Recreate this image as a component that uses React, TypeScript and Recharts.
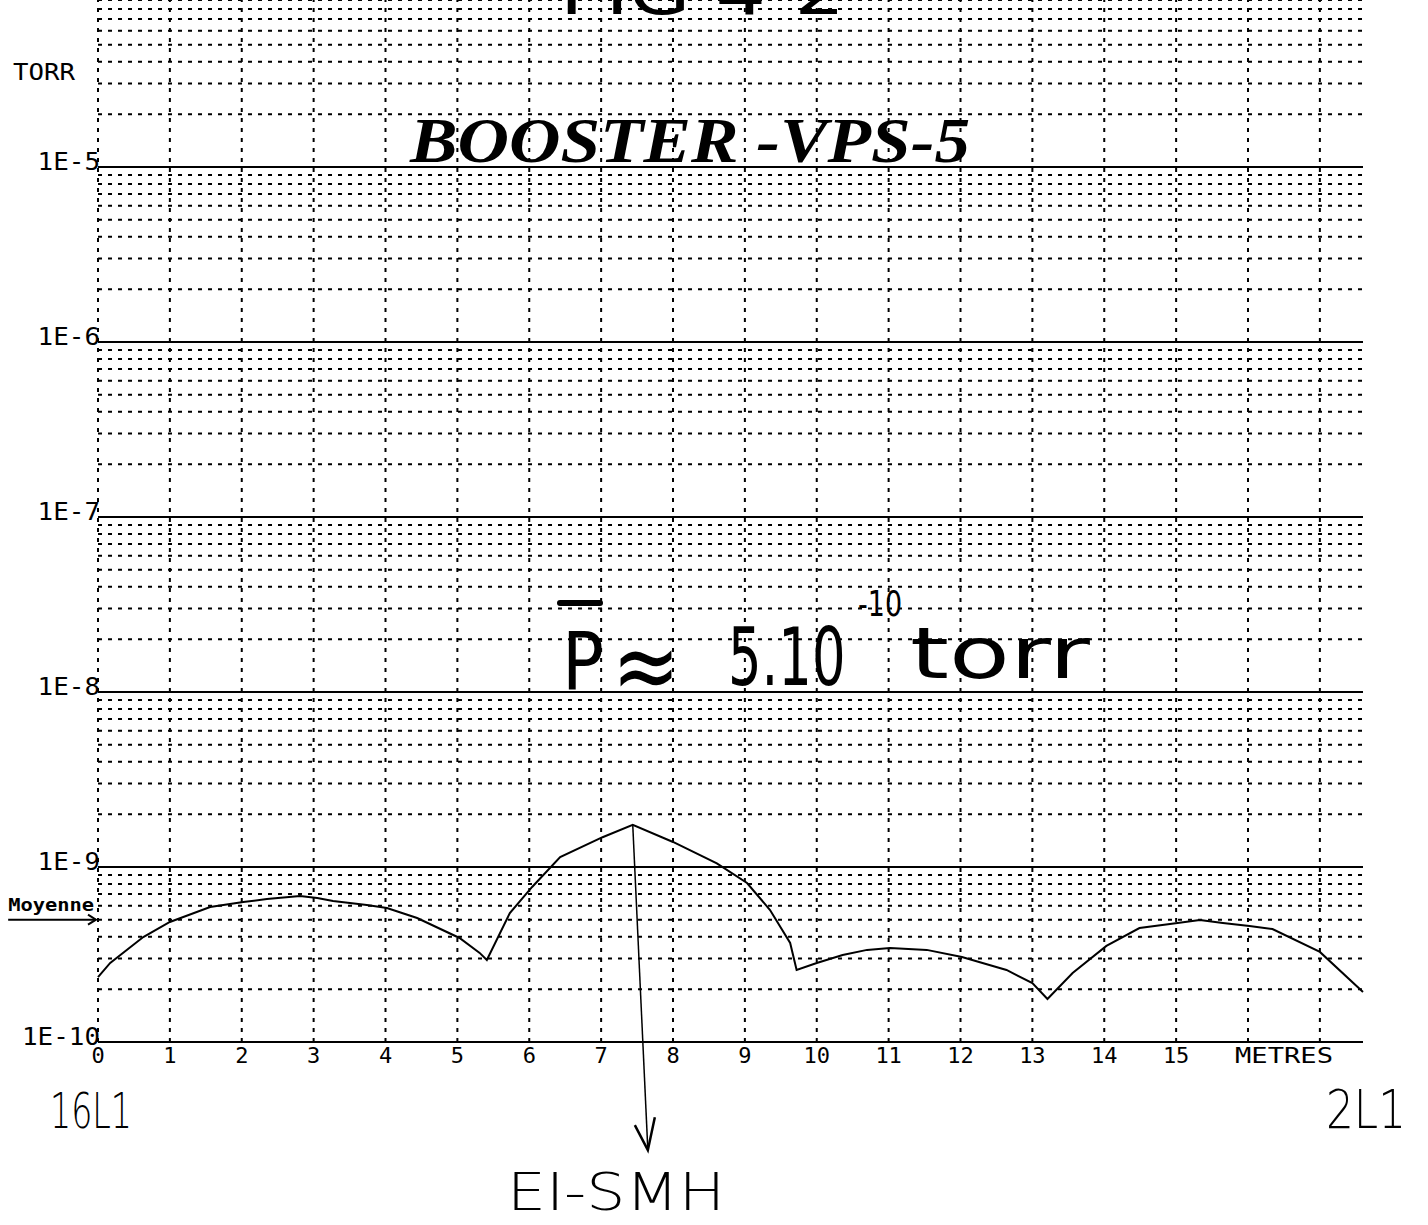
import React from "react";
import { LineChart, Line, XAxis, YAxis, ReferenceLine } from "recharts";

// position along the section, metres
const metres = [
  0, 0.17, 0.63, 1.0, 1.56, 2.02, 2.35, 2.81, 3.05, 3.27, 3.74, 4.02, 4.44, 5.03, 5.31, 5.41,
  5.73, 6.04, 6.43, 7.02, 7.44, 8.0, 8.61, 9.03, 9.35, 9.63, 9.72, 10.0, 10.36, 10.7, 11.02,
  11.53, 12.02, 12.64, 13.0, 13.21, 13.56, 14.03, 14.49, 15.02, 15.33, 15.65, 16.02, 16.34,
  17.0, 17.6,
];
// pressure, torr
const pressure = [
  2.35e-10, 2.83e-10, 3.98e-10, 4.85e-10, 5.91e-10, 6.31e-10, 6.56e-10, 6.83e-10, 6.65e-10,
  6.39e-10, 6.07e-10, 5.83e-10, 5.11e-10, 3.93e-10, 3.23e-10, 2.94e-10, 5.46e-10, 7.69e-10,
  1.14e-9, 1.48e-9, 1.74e-9, 1.39e-9, 1.05e-9, 8.1e-10, 5.68e-10, 3.68e-10, 2.58e-10,
  2.83e-10, 3.14e-10, 3.36e-10, 3.44e-10, 3.36e-10, 3.06e-10, 2.58e-10, 2.17e-10, 1.76e-10,
  2.48e-10, 3.54e-10, 4.48e-10, 4.79e-10, 4.98e-10, 4.79e-10, 4.6e-10, 4.42e-10, 3.27e-10,
  1.93e-10,
];

const decades = [1e-10, 1e-9, 1e-8, 1e-7, 1e-6, 1e-5, 1e-4];
const decadeLabels = ["1E-10", "1E-9", "1E-8", "1E-7", "1E-6", "1E-5"];
const minorSteps = [2, 3, 4, 5, 6, 7, 8, 9];
const metreTicks = [0, 1, 2, 3, 4, 5, 6, 7, 8, 9, 10, 11, 12, 13, 14, 15, 16, 17];
const MOYENNE = 5e-10;
const PEAK = { m: 7.44, p: 1.74e-9 };
const PEAK_TARGET = { m: 7.65, p: 2.41e-11 };

const data = metres.map((m, i) => ({ m, p: pressure[i] }));
const minorLines = decades.slice(0, -1).flatMap((d) => minorSteps.map((k) => k * d));

const mono = "DejaVu Sans Mono";
const hand = "DejaVu Sans";

const YTick = (props: any) => {
  const { x, y, payload } = props;
  const label = decadeLabels[decades.indexOf(payload.value)];
  if (!label) return null;
  const w = label.length * 15.6;
  return (
    <text x={x + 2 - w} y={y + 3} fontFamily={mono} fontSize={24} textLength={w} lengthAdjust="spacingAndGlyphs" fill="#000">
      {label}
    </text>
  );
};

const XTick = (props: any) => {
  const { x, y, payload } = props;
  const v = payload.value;
  if (v === 17) return null;
  if (v === 16)
    return (
      <text x={x - 13} y={y + 21} fontFamily={mono} fontSize={22} textLength={98} lengthAdjust="spacingAndGlyphs" fill="#000">
        METRES
      </text>
    );
  return (
    <text x={x} y={y + 21} textAnchor="middle" fontFamily={mono} fontSize={22} fill="#000">
      {String(v)}
    </text>
  );
};

const MoyenneShape = (props: any) => {
  const { x1, y1, x2 } = props;
  return (
    <g>
      <line x1={x1} y1={y1} x2={x2 - 2} y2={y1} stroke="#000" strokeWidth={2} />
      <polyline points={`${x2 - 10},${y1 - 5} ${x2 - 2},${y1} ${x2 - 10},${y1 + 5}`} fill="none" stroke="#000" strokeWidth={2} />
      <text x={x1} y={y1 - 9} fontFamily={mono} fontSize={17} fontWeight="bold" textLength={86} lengthAdjust="spacingAndGlyphs" fill="#000">
        Moyenne
      </text>
    </g>
  );
};

const ArrowShape = (props: any) => {
  const { x1, y1, x2, y2 } = props;
  return (
    <g>
      <line x1={x1} y1={y1} x2={x2} y2={y2} stroke="#000" strokeWidth={1.5} />
      <polyline points={`${x2 - 13},${y2 - 25} ${x2},${y2} ${x2 + 7},${y2 - 33}`} fill="none" stroke="#000" strokeWidth={2.5} />
    </g>
  );
};

const Notes = () => (
  <svg width={1428} height={1225} style={{ position: "absolute", left: 0, top: 0, pointerEvents: "none" }}>
    <text x={560} y={14} fontFamily={hand} fontSize={60} textLength={285} lengthAdjust="spacingAndGlyphs">FIG 4-2</text>
    <text x={13} y={80} fontFamily={mono} fontSize={23} textLength={62} lengthAdjust="spacingAndGlyphs">TORR</text>
    <text x={410} y={162} fontFamily="Liberation Serif" fontStyle="italic" fontWeight="bold" fontSize={64} textLength={560} lengthAdjust="spacingAndGlyphs">
      BOOSTER -VPS-5
    </text>
    <line x1={560} y1={603} x2={600} y2={603} stroke="#000" strokeWidth={6} strokeLinecap="round" />
    <text x={562} y={690} fontFamily={hand} fontSize={80} textLength={42} lengthAdjust="spacingAndGlyphs">P</text>
    <text x={612} y={700} fontFamily={hand} fontSize={100} textLength={68} lengthAdjust="spacingAndGlyphs">≈</text>
    <text transform="translate(728 685) scale(0.66 1)" fontFamily={hand} fontSize={80}>5.10</text>
    <text transform="translate(858 616) scale(0.75 1)" fontFamily={hand} fontSize={36}>-10</text>
    <text x={910} y={678} fontFamily={hand} fontSize={72} textLength={180} lengthAdjust="spacingAndGlyphs">torr</text>
    <text x={50} y={1128} fontFamily={hand} fontWeight={200} fontSize={50} textLength={82} lengthAdjust="spacingAndGlyphs">16L1</text>
    <text x={1326} y={1128} fontFamily={hand} fontWeight={200} fontSize={54} textLength={80} lengthAdjust="spacingAndGlyphs">2L1</text>
    <text x={507} y={1210} fontFamily={hand} fontWeight={200} fontSize={52} textLength={218} lengthAdjust="spacingAndGlyphs">EI-SMH</text>
  </svg>
);

const App = () => {
  return (
    <div style={{ position: "absolute", left: 0, top: 0, width: 1428, height: 1225, overflow: "hidden", background: "#fff" }}>
      <div style={{ position: "absolute", left: 0, top: -40 }}>
        <LineChart width={1428} height={1220} data={data} margin={{ top: 32, right: 65, bottom: 108, left: 8 }}>
          <XAxis
            dataKey="m"
            type="number"
            domain={[0, 17.6]}
            ticks={metreTicks}
            interval={0}
            tickLine={false}
            tickSize={0}
            tickMargin={0}
            height={30}
            axisLine={{ stroke: "#000", strokeWidth: 2 }}
            tick={<XTick />}
          />
          <YAxis
            type="number"
            scale="log"
            domain={[1e-10, 1e-4]}
            ticks={decades}
            interval={0}
            width={90}
            axisLine={false}
            tickLine={false}
            tickSize={0}
            tickMargin={0}
            tick={<YTick />}
          />
          {minorLines.map((v) => (
            <ReferenceLine key={`h${v}`} y={v} stroke="#000" strokeWidth={2} strokeDasharray="4 6" />
          ))}
          {metreTicks.map((v) => (
            <ReferenceLine key={`v${v}`} x={v} stroke="#000" strokeWidth={2} strokeDasharray="4 6" />
          ))}
          {decades.slice(1).map((v) => (
            <ReferenceLine key={`d${v}`} y={v} stroke="#000" strokeWidth={2} />
          ))}
          <ReferenceLine
            segment={[{ x: -1.25, y: MOYENNE }, { x: 0, y: MOYENNE }]}
            ifOverflow="visible"
            shape={<MoyenneShape />}
          />
          <Line type="linear" dataKey="p" stroke="#000" strokeWidth={2} dot={false} isAnimationActive={false} />
          <ReferenceLine
            segment={[{ x: PEAK.m, y: PEAK.p }, { x: PEAK_TARGET.m, y: PEAK_TARGET.p }]}
            ifOverflow="visible"
            shape={<ArrowShape />}
          />
        </LineChart>
      </div>
      <Notes />
    </div>
  );
};

export default App;
